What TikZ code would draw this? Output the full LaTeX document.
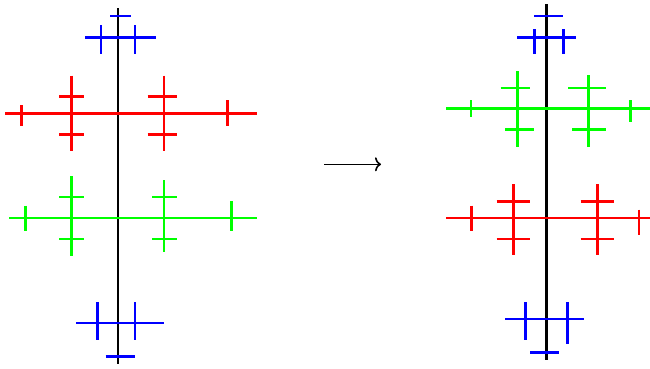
\documentclass[tikz,border=0pt]{standalone}
\usetikzlibrary{arrows.meta}
\begin{document}
\begin{tikzpicture}[x=1pt,y=-1pt,
  seg/.style={line width=2.6pt},
  spine/.style={seg,black},
  bl/.style={seg,blue},
  rd/.style={seg,red},
  gr/.style={seg,green}]
\useasboundingbox (0,0) rectangle (650,368);
% ---------- left tree ----------
\draw[spine] (118,8) -- (118,364);
% blue top
\draw[bl] (110,16) -- (131,16);
\draw[bl] (85,37.3) -- (155.7,37.3);
\draw[bl] (101,25) -- (101,54);
\draw[bl] (135,25) -- (135,54);
% red
\draw[rd] (5,113.3) -- (256.7,113.3);
\draw[rd] (21.7,105) -- (21.7,125.7);
\draw[rd] (227.3,100) -- (227.3,125.7);
\draw[rd] (71.7,75.7) -- (71.7,150.7);
\draw[rd] (59.3,96.7) -- (84.3,96.7);
\draw[rd] (59.3,134.3) -- (84.3,134.3);
\draw[rd] (164,75.7) -- (164,150.7);
\draw[rd] (147.7,96.7) -- (176.7,96.7);
\draw[rd] (147.7,134.3) -- (176.7,134.3);
% green
\draw[gr] (9.3,218) -- (256.7,218);
\draw[gr] (25.7,205.7) -- (25.7,230.7);
\draw[gr] (231.7,201.3) -- (231.7,230.7);
\draw[gr] (71.7,176) -- (71.7,255.7);
\draw[gr] (59.3,197) -- (84.3,197);
\draw[gr] (59.3,239) -- (84.3,239);
\draw[gr] (164,180) -- (164,251.7);
\draw[gr] (152,197) -- (176.7,197);
\draw[gr] (152,239) -- (176.7,239);
% blue bottom
\draw[bl] (76,323) -- (164.3,323);
\draw[bl] (97.3,302.3) -- (97.3,339.7);
\draw[bl] (135,302.3) -- (135,339.7);
\draw[bl] (105.7,356.7) -- (135,356.7);
% ---------- arrow ----------
\coordinate (a1) at (324.3,164.3);
\coordinate (a2) at (381,164.3);
\draw[line width=1.6pt,-{To[length=6pt,width=14pt]}] (a1) -- (a2);
% ---------- right tree ----------
\draw[spine] (546.7,4) -- (546.7,360);
% blue top
\draw[bl] (534.3,16) -- (563.3,16);
\draw[bl] (517.3,37.3) -- (576,37.3);
\draw[bl] (534.3,29.3) -- (534.3,54);
\draw[bl] (563.3,29.3) -- (563.3,54);
% green
\draw[gr] (446,108.7) -- (650,108.7);
\draw[gr] (471,100) -- (471,117.3);
\draw[gr] (630.7,100) -- (630.7,121.7);
\draw[gr] (517.3,71) -- (517.3,146.7);
\draw[gr] (500.7,88) -- (530,88);
\draw[gr] (505,129.3) -- (534,129.3);
\draw[gr] (588.7,75.3) -- (588.7,146.7);
\draw[gr] (568,88) -- (605.7,88);
\draw[gr] (572.3,129.3) -- (605.7,129.3);
% red
\draw[rd] (446,218) -- (650,218);
\draw[rd] (471.7,205.7) -- (471.7,230.7);
\draw[rd] (639,209.7) -- (639,234.7);
\draw[rd] (513.3,184) -- (513.3,255);
\draw[rd] (496.7,201.5) -- (530,201.5);
\draw[rd] (496.7,239) -- (530,239);
\draw[rd] (597.3,184) -- (597.3,255);
\draw[rd] (580.7,201.5) -- (614,201.5);
\draw[rd] (580.7,239) -- (614,239);
% blue bottom
\draw[bl] (505,319) -- (584.3,319);
\draw[bl] (525.7,302.3) -- (525.7,339.7);
\draw[bl] (567.7,302.3) -- (567.7,344);
\draw[bl] (530,352.3) -- (559.3,352.3);
\end{tikzpicture}
\end{document}
